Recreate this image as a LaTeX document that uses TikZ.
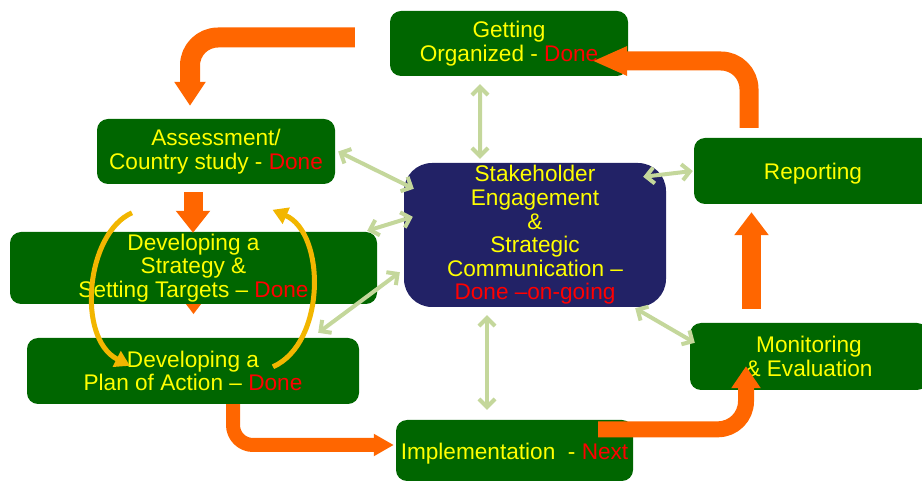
\documentclass[tikz,border=0pt]{standalone}
\usepackage{fontspec}
\setmainfont{Liberation Sans}
\usetikzlibrary{arrows.meta,backgrounds}
\definecolor{boxgreen}{RGB}{0,102,0}
\definecolor{boxnavy}{RGB}{34,34,102}
\definecolor{flowor}{RGB}{255,102,0}
\definecolor{linkgreen}{RGB}{196,215,155}
\definecolor{cyclegold}{RGB}{242,182,0}
\definecolor{txtyellow}{RGB}{255,255,0}
\definecolor{txtred}{RGB}{255,0,0}
\newcommand{\done}[1]{\textcolor{txtred}{#1}}
\begin{document}
\begin{tikzpicture}[line join=round,
  stage/.style={fill=boxgreen,rounded corners=11bp,text=txtyellow,align=center,
    font=\fontsize{22.7}{23.7}\selectfont,inner sep=0pt,
    execute at begin node={\rule{0pt}{22bp}}},
  hub/.style={stage,fill=boxnavy,rounded corners=28bp},
  link/.style={draw=linkgreen,line width=4bp,<->,>={Straight Barb[width=16bp,length=8bp]}},
  flow/.style={draw=flowor,line width=#1,rounded corners=28bp},
  cycle/.style={draw=cyclegold,line width=5bp,-{Triangle[width=17bp,length=15bp]}},
]
\useasboundingbox (0,0) rectangle (922bp,483bp);
%%
\node (hub) at (535bp,248bp) [hub,minimum width=262bp,minimum height=144bp] {Stakeholder\\Engagement\\\&\\Strategic\\Communication –\\\done{Done –on-going}};
  \node (org) at (509bp,439.5bp) [stage,minimum width=238bp,minimum height=65bp] {Getting\\Organized - \done{Done}};
  \node (assess) at (216bp,331.5bp) [stage,minimum width=238bp,minimum height=65bp] {Assessment/\\Country study - \done{Done}};
  \node (strat) at (193.5bp,215bp) [stage,minimum width=367bp,minimum height=72bp] {Developing a\\Strategy \&\\Setting Targets – \done{Done}};
  \node (plan) at (193bp,112bp) [stage,minimum width=332bp,minimum height=66bp] {Developing a\\Plan of Action – \done{Done}};
  \node (impl) at (514.5bp,32.5bp) [stage,minimum width=237bp,minimum height=61bp] {Implementation~~- \done{Next}};
  \node (report) at (813bp,312bp) [stage,minimum width=238bp,minimum height=66bp] {Reporting};
  \node (monitor) at (809bp,126.5bp) [stage,minimum width=238bp,minimum height=67bp] {Monitoring\\\& Evaluation};
%
\begin{pgfonlayer}{background}
  \draw [flow=19bp,-{Triangle[width=33bp,length=23bp]}] (strat.center) -- ([yshift=-10bp]strat.south);
\end{pgfonlayer}
  \draw [flow=20bp,-{Triangle[width=30bp,length=24bp]}] ([shift={(-35bp,6bp)}]org.west) -| ([shift={(-26bp,13bp)}]assess.north);
  \draw [flow=19bp,-{Triangle[width=33bp,length=22bp]}] ([shift={(-23bp,-8bp)}]assess.south) -- ([shift={(-0.5bp,-1bp)}]strat.north);
  \draw [flow=14bp,rounded corners=20bp,-{Triangle[width=21bp,length=20bp]}] ([xshift=40bp]plan.south) |- ([shift={(-2bp,5.5bp)}]impl.west);
  \draw [flow=16bp,-{Triangle[width=28bp,length=22bp]}] ([shift={(-35bp,-9.5bp)}]impl.north east) -| ([shift={(-63bp,24bp)}]monitor.south);
  \draw [flow=19bp,-{Triangle[width=33bp,length=23bp]}] ([shift={(-57.5bp,14bp)}]monitor.north) -- ([shift={(-61.5bp,-8bp)}]report.south);
  \draw [flow=19bp,-{Triangle[width=27bp,length=35bp]}] ([shift={(-64bp,10bp)}]report.north) |- ([shift={(-36bp,-17.5bp)}]org.east);
%
  \draw [link] ([shift={(-29bp,-8bp)}]org.south) -- ([shift={(-55bp,4bp)}]hub.north);
  \draw [link] ([xshift=3bp]assess.east) -- ([shift={(10bp,-26bp)}]hub.north west);
  \draw [link] ([shift={(-10bp,1bp)}]strat.north east) -- ([shift={(9bp,-54bp)}]hub.north west);
  \draw [link] ([shift={(-41bp,5bp)}]plan.north east) -- ([shift={(-4bp,35bp)}]hub.south west);
  \draw [link] ([shift={(-23bp,-14bp)}]hub.north east) -- ([xshift=-1bp]report.west);
  \draw [link] ([shift={(-31bp,-1bp)}]hub.south east) -- ([shift={(5bp,-20bp)}]monitor.north west);
  \draw [link] ([shift={(-48bp,-8bp)}]hub.south) -- ([shift={(-27.5bp,10bp)}]impl.north);
%
  \draw [cycle] ([shift={(-61.5bp,19bp)}]strat.north) .. controls (86bp,250bp) and (76bp,145bp) .. ([shift={(-63bp,-28bp)}]plan.north);
  \draw [cycle] ([shift={(80bp,-29bp)}]plan.north) .. controls (326bp,140bp) and (326bp,250bp) .. ([shift={(79bp,22bp)}]strat.north);
%
\end{tikzpicture}
\end{document}
